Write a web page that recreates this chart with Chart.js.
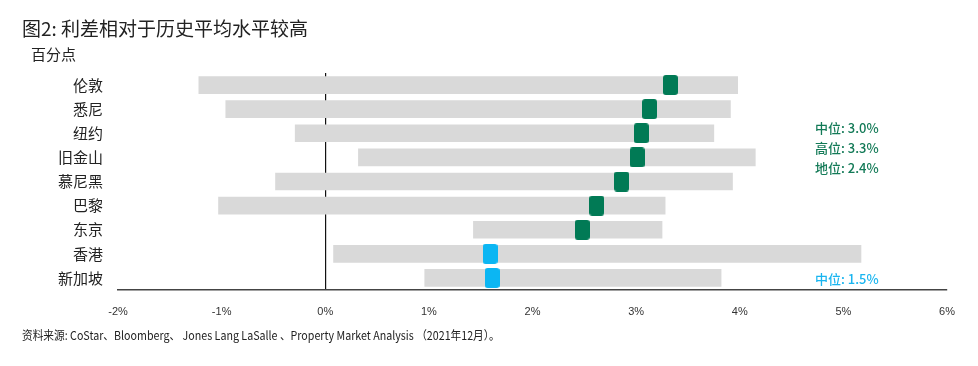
<!DOCTYPE html>
<html>
<head>
<meta charset="utf-8">
<script src="https://cdn.jsdelivr.net/npm/chart.js@4.4.1/dist/chart.umd.min.js"></script>
<style>
  body { margin: 0; background: #fff; font-family: 'Noto Sans CJK SC', sans-serif; }
  #wrap { position: relative; width: 978px; height: 366px; }
  #chartBox { position: absolute; left: 0; top: 0; width: 978px; height: 330px; }
  .txt { position: absolute; white-space: nowrap; color: #222; }
  #title { left: 22px; top: 14px; font-size: 19px; }
  #unit { left: 31px; top: 43px; font-size: 15px; }
  #source { left: 22px; top: 326px; font-size: 12px; transform: scaleX(0.89); transform-origin: left center; }
  .note { font-size: 13px; left: 815px; font-weight: 500; }
  .green { color: #137a57; }
  .blue { color: #19b5f0; }
</style>
</head>
<body>
<div id="wrap">
  <div id="chartBox"><canvas id="spreadChart"></canvas></div>
  <div class="txt" id="title">图2: 利差相对于历史平均水平较高</div>
  <div class="txt" id="unit">百分点</div>
  <div class="txt note green" style="top:118px">中位: 3.0%</div>
  <div class="txt note green" style="top:138px">高位: 3.3%</div>
  <div class="txt note green" style="top:158px">地位: 2.4%</div>
  <div class="txt note blue" style="top:269px">中位: 1.5%</div>
  <div class="txt" id="source">资料来源: CoStar、Bloomberg、 Jones Lang LaSalle 、Property Market Analysis （2021年12月）。</div>
</div>
<script>
// Data (percentage points)
const cities = ['伦敦', '悉尼', '纽约', '旧金山', '慕尼黑', '巴黎', '东京', '香港', '新加坡'];
const rangeLow = [-1.22, -0.96, -0.29, 0.32, -0.48, -1.03, 1.43, 0.08, 0.96];
const rangeHigh = [3.98, 3.91, 3.75, 4.15, 3.93, 3.28, 3.25, 5.17, 3.82];
const current = [3.33, 3.13, 3.05, 3.01, 2.86, 2.62, 2.48, 1.59, 1.61];
const isAsia = [false, false, false, false, false, false, false, true, true];
const xTicks = [-2, -1, 0, 1, 2, 3, 4, 5, 6];

const GREEN = '#017a55';
const BLUE = '#0bb6f3';
const GRAY = '#d9d9d9';

// Rounded rectangle marker drawn on a small canvas, used as point style
function makeMarker(color) {
    const c = document.createElement('canvas');
    c.width = 15;
    c.height = 20;
    const ctx = c.getContext('2d');
    ctx.fillStyle = color;
    ctx.beginPath();
    ctx.roundRect(0, 0, 15, 20, 3);
    ctx.fill();
    return c;
}
const greenMarker = makeMarker(GREEN);
const blueMarker = makeMarker(BLUE);

document.addEventListener('DOMContentLoaded', function() {
    const ctx = document.getElementById('spreadChart').getContext('2d');

    new Chart(ctx, {
        type: 'bar',
        data: {
            labels: cities,
            datasets: [{
                label: '历史区间',
                data: cities.map((c, i) => [rangeLow[i], rangeHigh[i]]),
                backgroundColor: GRAY,
                barThickness: 17,
                borderSkipped: false,
                order: 2
            }, {
                type: 'line',
                label: '当前',
                data: cities.map((c, i) => ({ x: current[i], y: c })),
                showLine: false,
                pointStyle: isAsia.map(a => a ? blueMarker : greenMarker),
                pointRadius: 10,
                order: 1
            }]
        },
        options: {
            indexAxis: 'y',
            responsive: true,
            maintainAspectRatio: false,
            animation: false,
            layout: {
                padding: { top: 73, right: 31, left: 0, bottom: 0 }
            },
            plugins: {
                legend: { display: false },
                tooltip: { enabled: false }
            },
            scales: {
                x: {
                    type: 'linear',
                    min: -2,
                    max: 6,
                    afterBuildTicks: function(axis) {
                        axis.ticks = xTicks.map(v => ({ value: v }));
                    },
                    afterFit: function(axis) {
                        axis.height = 40;
                    },
                    grid: {
                        drawTicks: false,
                        lineWidth: 1.2,
                        color: function(c) {
                            return c.tick && c.tick.value === 0 ? '#111' : 'rgba(0,0,0,0)';
                        }
                    },
                    border: { display: true, color: '#444', width: 1.5 },
                    ticks: {
                        padding: 15,
                        color: '#333',
                        font: { family: "'Liberation Sans', sans-serif", size: 11 },
                        callback: function(value) {
                            return value + '%';
                        }
                    }
                },
                y: {
                    type: 'category',
                    offset: true,
                    afterFit: function(axis) {
                        axis.width = 118;
                    },
                    grid: { display: false, drawTicks: false },
                    border: { display: false },
                    ticks: {
                        padding: 15,
                        color: '#222',
                        font: { family: "'Noto Sans CJK SC', sans-serif", size: 15 }
                    }
                }
            }
        }
    });
});
</script>
</body>
</html>
